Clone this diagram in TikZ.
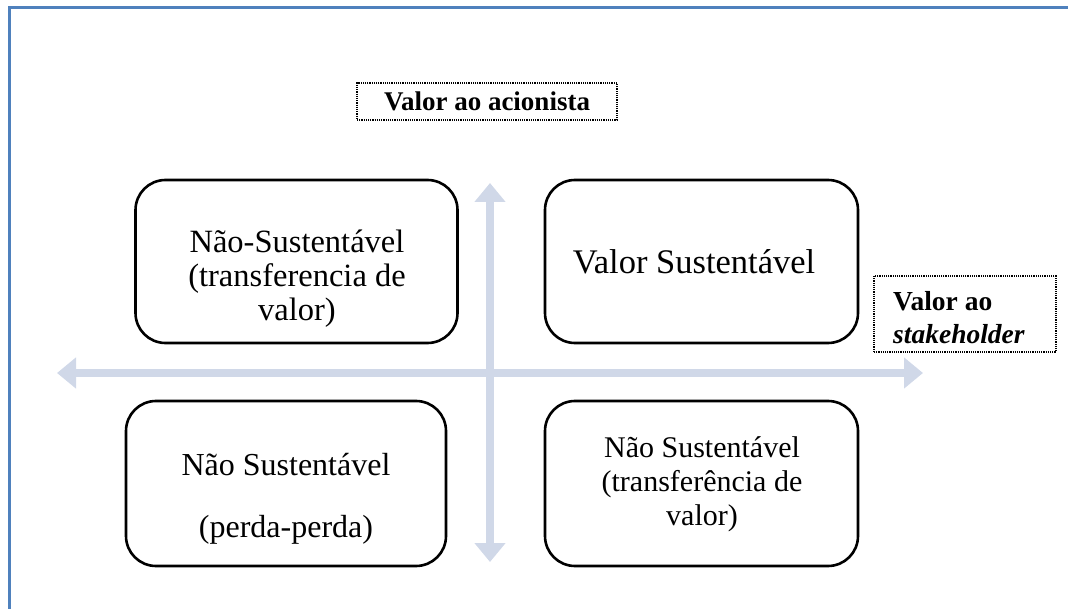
\documentclass[tikz,border=0pt]{standalone}
\usepackage{fontspec}
\setmainfont{Liberation Serif}
\usetikzlibrary{arrows.meta}
\definecolor{framecol}{RGB}{79,129,189}
\definecolor{axiscol}{RGB}{208,216,232}
\begin{document}
\begin{tikzpicture}[x=1pt,y=-1pt,
  quad/.style={draw=black,line width=2.6pt,rounded corners=30pt,inner sep=0pt},
  qtext/.style={align=center,inner sep=0pt},
  tag/.style={draw=black,densely dotted,line width=1.2pt,inner sep=0pt,font=\bfseries\fontsize{27}{33}\selectfont},
  axis/.style={axiscol,line width=8pt,{Triangle[width=30pt,length=19pt]}-{Triangle[width=30pt,length=19pt]}}]
  \useasboundingbox (0,0) rectangle (1068,609);
  % page frame
  \draw[framecol,line width=3pt] (9,612) -- (9,8) -- (1072,8);

  % axes
  \coordinate (vtop) at (490,183);
  \coordinate (vbot) at (490,562);
  \coordinate (hleft) at (57,373);
  \coordinate (hright) at (923,373);
  \draw[axis] (vbot) -- (vtop);
  \draw[axis] (hleft) -- (hright);

  % quadrants
  \node[quad,minimum width=322pt,minimum height=163pt] (tl) at (296.5,261.5) {};
  \node[qtext,font=\fontsize{32.5}{34}\selectfont] (tltext) at (297,279)
    {Não-Sustentável\\(transferencia de\\valor)};
  \node[quad,minimum width=313pt,minimum height=163pt] (tr) at (701.5,261.5) {};
  \node[qtext,font=\fontsize{34.5}{36}\selectfont] (trtext) at (694,262)
    {Valor Sustentável};
  \node[quad,minimum width=320pt,minimum height=165pt] (bl) at (286,483.5) {};
  \node[qtext,font=\fontsize{32}{34}\selectfont] (bltext) at (286,499)
    {Não Sustentável\\[28pt](perda-perda)};
  \node[quad,minimum width=313pt,minimum height=165pt] (br) at (701.5,483.5) {};
  \node[qtext,font=\fontsize{30}{34}\selectfont] (brtext) at (702,484)
    {Não Sustentável\\(transferência de\\valor)};

  % axis labels
  \node[tag,minimum width=260pt,minimum height=37pt] (acion) at (487,101.5)
    {Valor ao acionista};
  \node[tag,minimum width=182pt,minimum height=76pt] (stake) at (965,314) {};
  \node[anchor=north west,inner sep=0pt,align=left,font=\bfseries\fontsize{27.5}{33}\selectfont] (staketext) at (893,291)
    {Valor ao\\\textit{stakeholder}};
\end{tikzpicture}
\end{document}
